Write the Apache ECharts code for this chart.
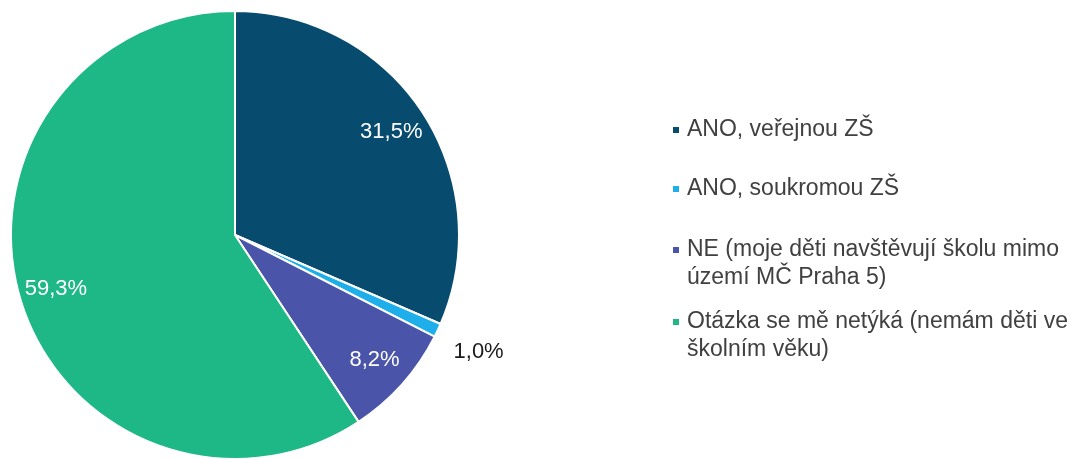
<!DOCTYPE html>
<html>
<head>
<meta charset="utf-8">
<script src="https://cdn.jsdelivr.net/npm/echarts@6/dist/echarts.min.js"></script>
<style>
  html, body { margin: 0; padding: 0; background: #fff; }
  #main { width: 1082px; height: 459px; }
</style>
</head>
<body>
<div id="main"></div>
<script>
const categories = [
    "ANO, veřejnou ZŠ",
    "ANO, soukromou ZŠ",
    "NE (moje děti navštěvují školu mimo\núzemí MČ Praha 5)",
    "Otázka se mě netýká (nemám děti ve\nškolním věku)"
];
const values = [31.5, 1.0, 8.2, 59.3];
const colors = ["#074c6e", "#1eaeea", "#4a54a9", "#1db885"];

const mainEl = document.getElementById("main");
let charts = echarts.init(mainEl);

const fontFamily = "'Liberation Sans', Arial, sans-serif";

const pieData = categories.map((name, i) => ({
    name: name,
    value: values[i],
    itemStyle: { color: colors[i] }
}));

// legend tops, one legend per item so the gaps follow the picture
const legendTops = [116, 175, 208, 280];

const legends = categories.map((name, i) => ({
    data: [name],
    orient: "vertical",
    left: 671,
    top: legendTops[i],
    padding: 0,
    itemWidth: 8,
    itemHeight: 8,
    icon: "rect",
    selectedMode: false,
    // two-line items: blank line first so the marker sits by the first line
    formatter: (n) => (n.indexOf("\n") >= 0 ? "\n" + n : n),
    textStyle: {
        fontFamily: fontFamily,
        fontSize: 23,
        lineHeight: 28,
        color: "#404040",
        padding: [0, 0, 0, 2]
    }
}));

const option = {
    animation: false,
    legend: legends,
    series: [
        {
            name: "main",
            type: "pie",
            center: [235, 235],
            radius: [0, 224],
            startAngle: 90,
            silent: true,
            data: pieData,
            label: { show: false },
            labelLine: { show: false },
            itemStyle: {
                borderColor: "#ffffff",
                borderWidth: 2
            }
        },
        {
            name: "labels",
            type: "pie",
            center: [235, 235],
            radius: [144, 224],
            startAngle: 90,
            silent: true,
            legendHoverLink: false,
            data: categories.map((name, i) => ({
                name: name,
                value: values[i],
                itemStyle: { color: "rgba(0,0,0,0)" },
                label: i === 1
                    ? { position: "outside", color: "#1a1a1a" }
                    : { position: "inside", color: "#ffffff" },
                labelLine: { show: false, length: 12, length2: 0 }
            })),
            label: {
                show: true,
                fontFamily: fontFamily,
                fontSize: 22,
                formatter: (p) => p.value.toFixed(1).replace(".", ",") + "%"
            },
            labelLayout: (p) => (p.dataIndex === 1 ? { dy: 16 } : {})
        }
    ]
};

charts.setOption(option);
</script>
</body>
</html>
